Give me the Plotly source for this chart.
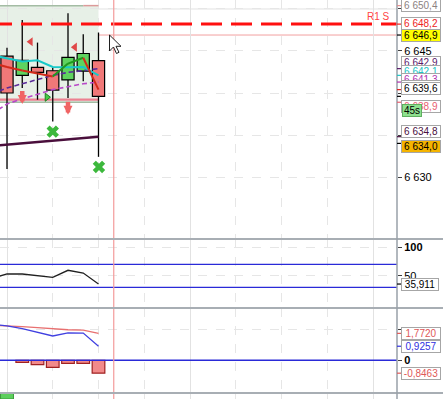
import plotly.graph_objects as go

# ---------------- data ----------------
bar_index = [0, 1, 2, 3, 4, 5, 6]
opens = [6644.4, 6642.1, 6643.05, 6642.65, 6641.55, 6642.6, 6643.85]
highs = [6645.4, 6648.7, 6646.0, 6643.0, 6649.5, 6647.0, 6647.2]
lows = [6630.95, 6640.6, 6639.2, 6636.6, 6639.4, 6641.4, 6632.4]
closes = [6640.0, 6643.9, 6642.45, 6640.35, 6644.25, 6644.7, 6639.6]

ind_index = [-1, 0, 1, 2, 3, 4, 5, 6]
trend_ma = [6643.57, 6643.10, 6642.68, 6642.32, 6641.96, 6643.5, 6644.2, 6640.4]
cyan_ma = [6644.5, 6644.17, 6643.75, 6643.9, 6643.1, 6643.06, 6643.1, 6642.1]
purple_dash = [6639.9, 6640.6, 6641.1, 6641.6, 6642.1, 6642.45, 6642.7, 6642.9]
magenta_dash = [6637.5, 6638.7, 6639.3, 6639.85, 6640.4, 6640.75, 6641.1, 6641.3]
slow_ma = [6633.7, 6633.85, 6634.0, 6634.15, 6634.3, 6634.45, 6634.62, 6634.8]

band_level = 6639.2
zone_top = 6650.4
zone_bottom = 6638.9
zone_end_bar = 6
r1_level = 6648.2
r1_label = "R1 S"
bid_level = 6646.9
cursor_bar = 7
price_major_grid = [6650]

sell_arrow_bars = [1, 4]
sell_arrow_tips = [6638.7, 6637.4]
left_tri_bars = [1.55, 4.45]
left_tri_prices = [6646.1, 6645.45]
right_tri_bars = [2.62]
right_tri_prices = [6639.5]
x_mark_bars = [3.0, 6.03]
x_mark_prices = [6635.4, 6631.2]

rsi = [45.7, 53.3, 53.3, 50.3, 47.6, 59.7, 55.0, 35.911]
rsi_levels = [30, 70]
macd_signal = [2.30, 2.27, 2.21, 2.15, 2.06, 2.01, 1.99, 1.7720]
macd_line = [2.36, 2.27, 2.08, 1.86, 1.60, 1.81, 1.79, 0.9257]
macd_hist = [None, -0.13, -0.29, -0.46, -0.20, -0.20, -0.8463]
volume_bars = [0]
volume_vals = [100]

price_ticks = [6630, 6635, 6640, 6645, 6650]
price_tick_text = ["6 630", "", "", "6 645", ""]
rsi_ticks = [50, 100]
rsi_tick_text = ["50", "<b>100</b>"]
macd_ticks = [0, 2]
macd_tick_text = ["<b>0</b>", ""]

price_labels = [6650.4, 6648.2, 6646.9, 6642.9, 6642.1, 6641.3, 6640.4, 6639.6, 6638.9, 6634.8, 6634.0]
price_label_colors = ['#8c8282', '#ee2222', '#000000', '#5a1a6a', '#20c4c4', '#b030b0',
                      '#e02020', '#000000', '#e86070', '#4a1040', '#000000']
price_tick_colors = ['#e09090', '#ee2222', '#000000', '#5a1a6a', '#20c4c4', '#b030b0',
                     '#e02020', '#000000', '#e86070', '#4a1040', '#000000']
price_label_bg = ['white', 'white', '#ffff00', 'white', 'white', 'white',
                  'white', 'white', 'white', 'white', '#f5b400']
price_label_shift = [0, 1, 0, 6, 4, 3, 3.5, 8, -4.5, 4.7, -3]
countdown_text = "45s"
bottom_panel_label = "<b>100</b>"

# ---------------- layout constants ----------------
W, H = 443, 399
PLOT_W = 397
FONT = "Liberation Sans"

def fmt_price(v):
    return f"{v:,.1f}".replace(",", " ").replace(".", ",")

def fmt4(v):
    return f"{v:.4f}".replace(".", ",")

def fmt3(v):
    return f"{v:.3f}".replace(".", ",")

fig = go.Figure()

# ---------------- candles ----------------
up_col, dn_col = '#5fd35f', '#f07878'
wx, wy = [], []
for i, o, h, l, c in zip(bar_index, opens, highs, lows, closes):
    top, bot = max(o, c), min(o, c)
    wx += [i, i, None, i, i, None]
    wy += [h, top, None, bot, l, None]
fig.add_trace(go.Scatter(x=wx, y=wy, mode='lines', line=dict(color='black', width=1.3),
                         yaxis='y', hoverinfo='skip'))
fig.add_trace(go.Bar(x=bar_index, y=[abs(c - o) for o, c in zip(opens, closes)],
                     base=[min(o, c) for o, c in zip(opens, closes)],
                     marker=dict(color=[up_col if c > o else dn_col for o, c in zip(opens, closes)],
                                 line=dict(color='black', width=1.2)),
                     width=0.8, yaxis='y'))

# ---------------- price indicators ----------------
fig.add_trace(go.Scatter(x=ind_index, y=slow_ma, mode='lines', line=dict(color='#4a0f3c', width=2.5), yaxis='y'))
fig.add_trace(go.Scatter(x=ind_index, y=magenta_dash, mode='lines',
                         line=dict(color='#b848c8', width=1.6, dash='5px,3px'), yaxis='y'))
fig.add_trace(go.Scatter(x=ind_index, y=purple_dash, mode='lines',
                         line=dict(color='#5a2a9a', width=1.6, dash='5px,3px'), yaxis='y'))
fig.add_trace(go.Scatter(x=ind_index, y=cyan_ma, mode='lines', line=dict(color='#18c8c8', width=2), yaxis='y'))
# trend MA coloured by direction
for k in range(len(ind_index) - 1):
    col = '#1f9a1f' if trend_ma[k + 1] > trend_ma[k] else '#d42a1a'
    fig.add_trace(go.Scatter(x=ind_index[k:k + 2], y=trend_ma[k:k + 2], mode='lines',
                             line=dict(color=col, width=2), yaxis='y'))

# markers
fig.add_trace(go.Scatter(x=left_tri_bars, y=left_tri_prices, mode='markers',
                         marker=dict(symbol='triangle-left', size=8, color='#e04848',
                                     line=dict(width=0)), yaxis='y'))
fig.add_trace(go.Scatter(x=right_tri_bars, y=right_tri_prices, mode='markers',
                         marker=dict(symbol='triangle-right', size=7, color='#44cc44',
                                     line=dict(width=1, color='#208020')), yaxis='y'))
fig.add_trace(go.Scatter(x=x_mark_bars, y=x_mark_prices, mode='markers',
                         marker=dict(symbol='x', size=11, color='#3cb83c',
                                     line=dict(width=0)), yaxis='y'))

# ---------------- RSI ----------------
fig.add_trace(go.Scatter(x=ind_index, y=rsi, mode='lines', line=dict(color='#202020', width=1.3), yaxis='y2'))

# ---------------- MACD ----------------
fig.add_trace(go.Bar(x=bar_index, y=macd_hist, width=0.83, yaxis='y3',
                     marker=dict(color='#f28a8a', line=dict(color='#a02222', width=1.2))))
fig.add_trace(go.Scatter(x=ind_index, y=macd_signal, mode='lines', line=dict(color='#e87070', width=1.3), yaxis='y3'))
fig.add_trace(go.Scatter(x=ind_index, y=macd_line, mode='lines', line=dict(color='#4040e0', width=1.3), yaxis='y3'))

# ---------------- bottom panel ----------------
fig.add_trace(go.Bar(x=volume_bars, y=volume_vals, width=0.85, yaxis='y4',
                     marker=dict(color='#5ccf5c', line=dict(color='#3a9a3a', width=1))))

# ---------------- shapes ----------------
shapes = []
# zone
shapes.append(dict(type='rect', xref='x', yref='y', x0=-2, x1=zone_end_bar, y0=zone_bottom, y1=zone_top,
                   fillcolor='#e7f0e7', line=dict(width=0), layer='below'))
shapes.append(dict(type='line', xref='x', yref='y', x0=-2, x1=zone_end_bar - 1, y0=zone_top, y1=zone_top,
                   line=dict(color='#a4bca4', width=1.5), layer='between'))
shapes.append(dict(type='line', xref='x', yref='y', x0=zone_end_bar - 1, x1=zone_end_bar, y0=zone_top, y1=zone_top,
                   line=dict(color='#dc9a9a', width=1.5), layer='between'))
shapes.append(dict(type='line', xref='x', yref='y', x0=-2, x1=zone_end_bar, y0=zone_bottom, y1=zone_bottom,
                   line=dict(color='#a4bca4', width=1.5), layer='between'))
shapes.append(dict(type='line', xref='x', yref='y', x0=-2, x1=zone_end_bar, y0=band_level, y1=band_level,
                   line=dict(color='#ec8090', width=2.2), layer='between'))
for g in price_major_grid:
    shapes.append(dict(type='line', xref='paper', yref='y', x0=0, x1=1, y0=g, y1=g,
                       line=dict(color='#e2e2e2', width=1), layer='below'))
# bid line
shapes.append(dict(type='line', xref='paper', yref='y', x0=0, x1=1, y0=bid_level, y1=bid_level,
                   line=dict(color='#f2a0a0', width=1), layer='between'))
# R1 dashed
shapes.append(dict(type='line', xref='paper', yref='y', x0=-9 / PLOT_W, x1=1, y0=r1_level, y1=r1_level,
                   line=dict(color='#ff1010', width=3, dash='21px,9px'), layer='above'))
# RSI levels
for lv in rsi_levels:
    shapes.append(dict(type='line', xref='paper', yref='y2', x0=0, x1=1, y0=lv, y1=lv,
                       line=dict(color='#2a2ad8', width=1.2), layer='above'))
# MACD zero
shapes.append(dict(type='line', xref='paper', yref='y3', x0=0, x1=1, y0=0, y1=0,
                   line=dict(color='#2a2ad8', width=1.4), layer='above'))
# cursor line
shapes.append(dict(type='line', xref='x', yref='paper', x0=cursor_bar, x1=cursor_bar, y0=0, y1=1,
                   line=dict(color='#f49a9a', width=1.2), layer='above'))

# panel domains
dom_price = [160 / H, 1]
dom_rsi = [91 / H, 160 / H]
dom_macd = [6 / H, 91 / H]
dom_vol = [0, 6 / H]
for yb in [dom_price[0], dom_rsi[0], dom_macd[0]]:
    shapes.append(dict(type='line', xref='paper', yref='paper', x0=0, x1=W / PLOT_W + 0.01, y0=yb, y1=yb,
                       line=dict(color='#a8aeb4', width=2), layer='above'))
# axis vertical line
shapes.append(dict(type='line', xref='paper', yref='paper', x0=1, x1=1, y0=0, y1=1,
                   line=dict(color='#98a0a8', width=1.5), layer='above'))

# value tick marks on the axis
tk = 4 / PLOT_W
for v, c in zip(price_labels, price_tick_colors):
    shapes.append(dict(type='line', xref='paper', yref='y', x0=1, x1=1 + tk, y0=v, y1=v,
                       line=dict(color=c, width=1.2), layer='above'))
shapes.append(dict(type='line', xref='paper', yref='y2', x0=1, x1=1 + tk, y0=rsi[-1], y1=rsi[-1],
                   line=dict(color='#000000', width=1.2), layer='above'))
for v, c in [(macd_signal[-1], '#e05858'), (macd_line[-1], '#3030e0'), (macd_hist[-1], '#e05858')]:
    shapes.append(dict(type='line', xref='paper', yref='y3', x0=1, x1=1 + tk, y0=v, y1=v,
                       line=dict(color=c, width=1.2), layer='above'))

# mouse pointer (decoration, pixel path)
ptr = [(0, 0), (0, 16), (4, 12), (7, 18.5), (9.5, 17.3), (6.5, 11.3), (11.5, 11.3)]
ox, oy = 109.5, 35
path = "M " + " L ".join(f"{(ox + px) / PLOT_W:.5f},{1 - (oy + py) / H:.5f}" for px, py in ptr) + " Z"
shapes.append(dict(type='path', xref='paper', yref='paper', path=path, fillcolor='white',
                   line=dict(color='#202020', width=1), layer='above'))

# ---------------- annotations ----------------
ann = []
lx = 1 + 4 / PLOT_W
for v, c, bg, sh in zip(price_labels, price_label_colors, price_label_bg, price_label_shift):
    ann.append(dict(xref='paper', yref='y', x=lx, y=v, xanchor='left', yanchor='middle', yshift=sh,
                    text=fmt_price(v), showarrow=False, font=dict(family=FONT, size=10, color=c),
                    bgcolor=bg, bordercolor='#a6a6a6', borderwidth=1, borderpad=0, width=38))
    if v == 6638.9:
        ann.append(dict(xref='paper', yref='y', x=lx + 1 / PLOT_W, y=v, xanchor='left', yanchor='middle',
                        yshift=sh - 4, text=countdown_text, showarrow=False,
                        font=dict(family=FONT, size=10, color='black'),
                        bgcolor='#8ee08e', bordercolor='#60b060', borderwidth=1, borderpad=0, width=18))
ann.append(dict(xref='paper', yref='y2', x=lx, y=rsi[-1], xanchor='left', yanchor='middle',
                text=fmt3(rsi[-1]), showarrow=False, font=dict(family=FONT, size=10, color='black'),
                bgcolor='white', bordercolor='#a6a6a6', borderwidth=1, borderpad=0, width=36))
for v, c in [(macd_signal[-1], '#e05858'), (macd_line[-1], '#3030e0'), (macd_hist[-1], '#e05858')]:
    ann.append(dict(xref='paper', yref='y3', x=lx, y=v, xanchor='left', yanchor='middle',
                    text=fmt4(v), showarrow=False, font=dict(family=FONT, size=10, color=c),
                    bgcolor='white', bordercolor='#a6a6a6', borderwidth=1, borderpad=0, width=38))
ann.append(dict(xref='paper', yref='y', x=392 / PLOT_W, y=r1_level, xanchor='right', yanchor='middle',
                yshift=8, text=r1_label, showarrow=False, font=dict(family=FONT, size=10, color='#ff4444')))
ann.append(dict(xref='paper', yref='paper', x=1 + 5 / PLOT_W, y=0, xanchor='left', yanchor='top',
                yshift=3, text=bottom_panel_label, showarrow=False, font=dict(family=FONT, size=11, color='black')))
for bx, tip in zip(sell_arrow_bars, sell_arrow_tips):
    ann.append(dict(xref='x', yref='y', x=bx, y=tip, ax=0, ay=-15, text=' ', font=dict(size=1),
                    showarrow=True, arrowhead=2, arrowsize=0.4, arrowwidth=4.5, arrowcolor='#f06464'))

tickfont = dict(family=FONT, size=11, color='black')
fig.update_layout(
    width=W, height=H, autosize=False,
    margin=dict(l=0, r=W - PLOT_W, t=0, b=0, pad=0),
    plot_bgcolor='white', paper_bgcolor='white',
    showlegend=False, hovermode=False, barmode='overlay',
    shapes=shapes, annotations=ann,
    xaxis=dict(range=[-7 / 15.25, (PLOT_W - 7) / 15.25], showticklabels=False, ticks='',
               showgrid=True, tick0=0, dtick=12, gridcolor='#e2e2e2', gridwidth=1, zeroline=False,
               minor=dict(tick0=0, dtick=3, showgrid=True, gridcolor='#e6e6e6', griddash='dash'),
               anchor='y4'),
    yaxis=dict(domain=dom_price, range=[6622.62, 6651.07], side='right', anchor='x',
               tickvals=price_ticks, ticktext=price_tick_text, ticks='outside', ticklen=4,
               tickcolor='#404040', tickfont=tickfont, showgrid=True, gridcolor='#e6e6e6',
               griddash='dash', zeroline=False),
    yaxis2=dict(domain=dom_rsi, range=[-5.54, 113.84], side='right', anchor='x',
                tickvals=rsi_ticks, ticktext=rsi_tick_text, ticks='outside', ticklen=4,
                tickcolor='#404040', tickfont=tickfont, showgrid=True, gridcolor='#e6e6e6',
                griddash='dash', zeroline=False),
    yaxis3=dict(domain=dom_macd, range=[-2.15, 3.44], side='right', anchor='x',
                tickvals=macd_ticks, ticktext=macd_tick_text, ticks='outside', ticklen=4,
                tickcolor='#404040', tickfont=tickfont, showgrid=True, gridcolor='#e6e6e6',
                griddash='dash', zeroline=False),
    yaxis4=dict(domain=dom_vol, range=[0, 60], side='right', anchor='x', showticklabels=False,
                ticks='', showgrid=False, zeroline=False),
)

fig.write_html("out.html")
